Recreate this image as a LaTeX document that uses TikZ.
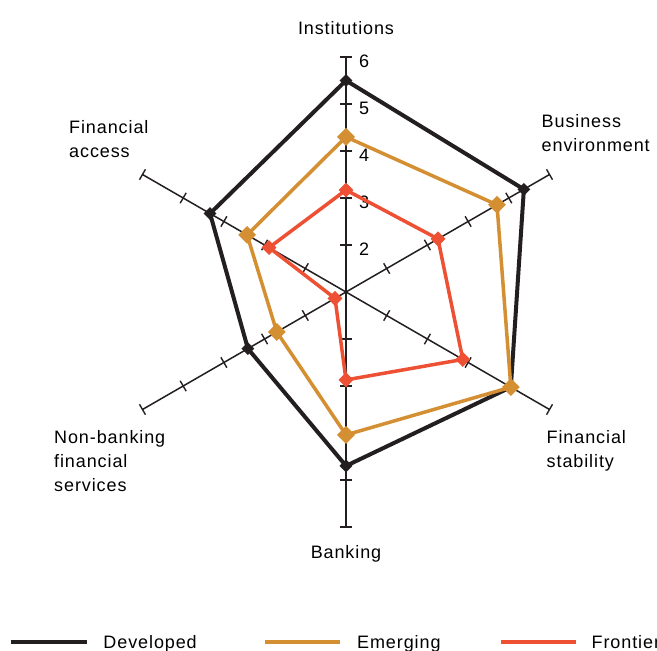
\documentclass[tikz,border=0pt]{standalone}
\usepackage{fontspec}
\newfontfamily\chartfont{Liberation Sans}[LetterSpace=5]
\usepackage{tikz}
\usetikzlibrary{calc,shapes.geometric}

\definecolor{developed}{HTML}{231F20}
\definecolor{emerging}{HTML}{D48F33}
\definecolor{frontier}{HTML}{EE5034}

\tikzset{
  spoke/.style={draw=developed, line width=1.5pt},
  spoketick/.style={draw=developed, line width=1.4pt},
  label/.style={inner sep=0pt, align=left},
  marker/.style={diamond, inner sep=0pt, fill=#1},
  series/.style={draw=#1, line join=round}
}

\begin{document}
\begin{tikzpicture}[x=1pt, y=1pt, font=\chartfont\fontsize{18}{24}\selectfont]
	\useasboundingbox (-346,-359) rectangle (311,292);

	%Achsen
	\coordinate (centre) at (0,0);
	\foreach \name/\ang in {inst/90, bus/30, stab/-30, bank/-90, nonbank/210, access/150} {
		\coordinate (\name) at (\ang:235);
		\draw[spoke] (centre) -- (\name);
		\foreach \k in {1,...,5}
			\draw[spoketick] ($(\ang:47*\k)+(\ang+90:6)$) -- ($(\ang:47*\k)+(\ang-90:6)$);
	}
	\foreach \k in {2,...,6}
		\node[label, anchor=base west] (val\k) at (13, 47*\k-58) {\k};

	\node[label, anchor=base] (instlabel) at (0,257) {Institutions};
	\node[label, anchor=north west] (buslabel) at (195.5,178) {Business\\environment};
	\node[label, anchor=north west] (stablabel) at (200.5,-138.5) {Financial\\stability};
	\node[label, anchor=base] (banklabel) at (0,-266) {Banking};
	\node[label, anchor=north west] (nonbanklabel) at (-292,-138) {Non-banking\\financial\\services};
	\node[label, anchor=north west] (accesslabel) at (-277,172) {Financial\\access};

	%Daten
	\foreach \ser/\col/\size/\lw/\vals in {
		dev/developed/13pt/4pt/{5.50,5.37,5.05,4.70,3.41,4.34},
		em/emerging/18pt/3.5pt/{4.30,4.71,5.05,4.04,2.70,3.43},
		fr/frontier/15pt/3.5pt/{3.17,3.26,3.87,2.87,1.27,2.89}} {
		\foreach \v [count=\i] in \vals
			\coordinate (\ser\i) at ({150-60*\i}:{47*(\v-1)});
		\draw[series=\col, line width=\lw] (\ser1) -- (\ser2) -- (\ser3) -- (\ser4) -- (\ser5) -- (\ser6) -- cycle;
		\foreach \i in {1,...,6}
			\node[marker=\col, minimum size=\size] (\ser mark\i) at (\ser\i) {};
	}

	%Legende
	\coordinate (devA) at (-335.3,-350); \coordinate (devB) at (-259.3,-350);
	\coordinate (emA) at (-81.2,-350);   \coordinate (emB) at (-5.8,-350);
	\coordinate (frA) at (154.6,-350);   \coordinate (frB) at (230,-350);
	\draw[developed, line width=4.5pt] (devA) -- (devB);
	\draw[emerging, line width=4.5pt] (emA) -- (emB);
	\draw[frontier, line width=4.5pt] (frA) -- (frB);
	\node[label, anchor=base west] (devlabel) at (-242.7,-356.6) {Developed};
	\node[label, anchor=base west] (emlabel) at (11,-356.6) {Emerging};
	\node[label, anchor=base west] (frlabel) at (245.5,-356.6) {Frontier};

\end{tikzpicture}
\end{document}
